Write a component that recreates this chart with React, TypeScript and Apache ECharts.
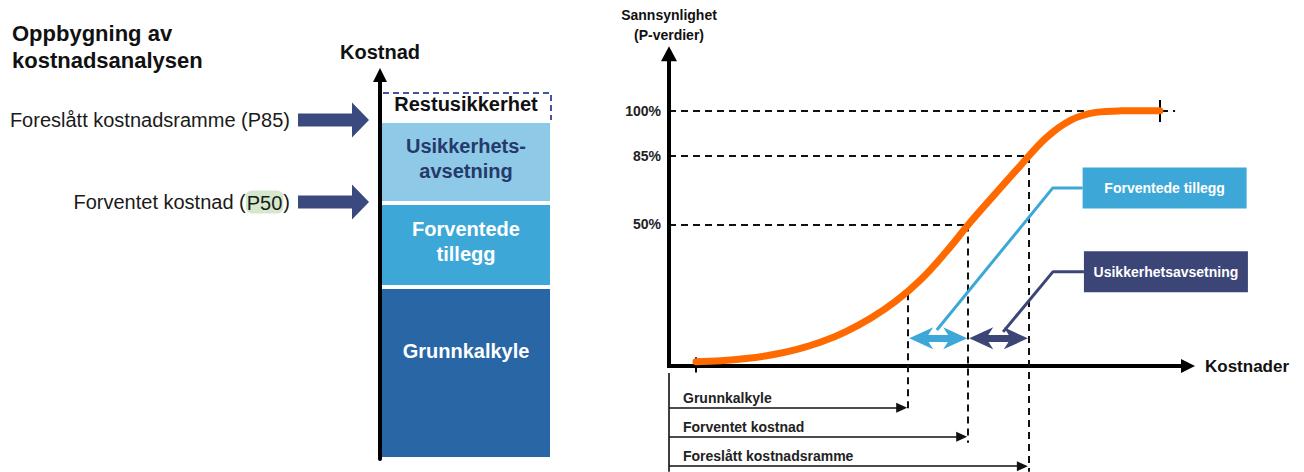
import React, { useEffect, useRef } from 'react';
import * as echarts from 'echarts';

const FONT = '"Liberation Sans", Arial, Helvetica, sans-serif';

// ---------- Left: build-up of the cost estimate (stacked column) ----------
const buildUpNames = ['Grunnkalkyle', 'Forventede tillegg', 'Usikkerhetsavsetning', 'Restusikkerhet'];
const buildUpLabels = ['Grunnkalkyle', 'Forventede\ntillegg', 'Usikkerhets-\navsetning', 'Restusikkerhet'];
const buildUpValues = [172, 84, 82, 29];
const buildUpColors = ['#2866a6', '#3da8d8', '#8ec9e8', '#ffffff'];
const buildUpLabelColors = ['#ffffff', '#ffffff', '#26396b', '#111111'];
const buildUpMax = 383;

const levelTexts = ['Foreslått kostnadsramme (P85)', 'Forventet kostnad ({hl|P50})'];
const levelStackCount = [3, 2];

// ---------- Right: S-curve (cumulative probability vs cost) ----------
const curveCost = [5.21, 10.03, 14.86, 19.68, 24.51, 29.33, 34.16, 38.99, 43.81, 48.63, 53.46, 58.28, 63.1, 67.93, 72.75, 77.58, 82.4, 87.23, 92.05, 94.75];
const curveProb = [1.68, 2.08, 2.94, 4.31, 6.46, 9.4, 13.51, 18.8, 25.46, 33.89, 44.66, 56.61, 67.77, 78.74, 89.32, 96.37, 99.38, 99.97, 100, 100];

const pLabels = ['50%', '85%', '100%'];
const pValues = [55.5, 82.27, 100];
const pLineEnds = [57.76, 69.47, 97.7];

const costLabels = ['Grunnkalkyle', 'Forventet kostnad', 'Foreslått kostnadsramme'];
const costValues = [46.18, 57.76, 69.47];
const costCurveProb = [28.5, 55.5, 82.27];

const calloutTexts = ['Forventede tillegg', 'Usikkerhetsavsetning'];
const calloutColors = ['#3da8d8', '#3b4677'];

// layout (annotation positions in the right chart's data space)
const bracketY = [-16.3, -27.7, -39.2];
const verticalBottom = [-17.9, -30.0, -41.4];
const doubleArrowY = 10.85;
const leaderLight = [[51.7, 14.1], [74.1, 69.8], [79.85, 69.8]];
const leaderDark = [[64.5, 13.4], [74.1, 36.9], [80.1, 36.9]];

const LEFT_GRID = { left: 380, width: 172, top: 76, bottom: 13 };

type Pt = number[];
function arrowHead(tip: Pt, dir: Pt, len: number, hw: number, notch: number, fill: string) {
  const [tx, ty] = tip;
  const [dx, dy] = dir;
  const px = -dy;
  const py = dx;
  const bx = tx - dx * len;
  const by = ty - dy * len;
  const pts: Pt[] = [[tx, ty], [bx + px * hw, by + py * hw]];
  if (notch) pts.push([tx - dx * (len - notch), ty - dy * (len - notch)]);
  pts.push([bx - px * hw, by - py * hw]);
  return { type: 'polygon', z: 20, shape: { points: pts }, style: { fill } };
}

export default function App() {
  const ref = useRef<HTMLDivElement>(null);

  useEffect(() => {
    if (!ref.current) return;
    const chart = echarts.init(ref.current, null, { renderer: 'svg' });

    const barSeries = buildUpValues.map((v, i) => ({
      type: 'bar',
      name: buildUpNames[i],
      xAxisIndex: 0,
      yAxisIndex: 0,
      stack: 'kost',
      data: [v],
      barWidth: '100%',
      silent: true,
      itemStyle: { color: buildUpColors[i], borderColor: '#ffffff', borderWidth: i < 3 ? 2 : 0 },
      label: {
        show: true,
        position: i === 0 ? ['50%', '37%'] : i === 3 ? ['50%', '42%'] : ['50%', '46%'],
        align: 'center',
        verticalAlign: 'middle',
        formatter: buildUpLabels[i],
        color: buildUpLabelColors[i],
        fontFamily: FONT,
        fontSize: 20,
        fontWeight: 'bold',
        lineHeight: 25,
      },
    }));

    const dashStyle = { color: '#111111', width: 2, type: [7, 5] };

    const option: any = {
      animation: false,
      grid: [
        { left: LEFT_GRID.left, width: LEFT_GRID.width, top: LEFT_GRID.top, bottom: LEFT_GRID.bottom },
        { left: 669, right: 117, top: 48, bottom: 0 },
      ],
      xAxis: [
        { gridIndex: 0, type: 'category', data: ['Kostnad'], show: false },
        {
          gridIndex: 1,
          type: 'value',
          min: 0,
          max: 100,
          axisLine: { show: true, onZero: true, lineStyle: { color: '#000000', width: 4 } },
          axisTick: { show: false },
          axisLabel: { show: false },
          splitLine: { show: false },
          name: 'Kostnader',
          nameLocation: 'end',
          nameGap: 18,
          nameTextStyle: { fontFamily: FONT, fontSize: 17, fontWeight: 'bold', color: '#111111' },
        },
      ],
      yAxis: [
        {
          gridIndex: 0,
          type: 'value',
          min: 0,
          max: buildUpMax,
          z: 5,
          axisLine: { show: true, lineStyle: { color: '#000000', width: 4 } },
          axisTick: { show: false },
          axisLabel: { show: false },
          splitLine: { show: false },
          name: 'Kostnad',
          nameLocation: 'end',
          nameGap: 14,
          nameTextStyle: { fontFamily: FONT, fontSize: 20, fontWeight: 'bold', color: '#111111' },
        },
        {
          gridIndex: 1,
          type: 'value',
          min: -41.5,
          max: 124.6,
          axisLine: { show: false },
          axisTick: { show: false },
          axisLabel: { show: false },
          splitLine: { show: false },
          name: 'Sannsynlighet\n(P-verdier)',
          nameLocation: 'end',
          nameGap: 3,
          nameTextStyle: { fontFamily: FONT, fontSize: 14, fontWeight: 'bold', color: '#111111', lineHeight: 20, align: 'center' },
        },
      ],
      series: [
        ...barSeries,
        {
          type: 'line',
          name: 'S-kurve',
          xAxisIndex: 1,
          yAxisIndex: 1,
          data: curveCost.map((c, i) => [c, curveProb[i]]),
          smooth: 0.4,
          showSymbol: false,
          symbol: 'none',
          clip: false,
          z: 10,
          silent: true,
          lineStyle: { color: '#ff6a00', width: 7, cap: 'round' },
          markLine: {
            silent: true,
            z: 4,
            symbol: ['none', 'none'],
            lineStyle: dashStyle,
            label: { show: false },
            data: [
              ...pValues.map((p, i) => [
                {
                  coord: [0, p],
                  label: {
                    show: true,
                    position: 'start',
                    distance: 8,
                    formatter: pLabels[i],
                    fontFamily: FONT,
                    fontSize: 14,
                    fontWeight: 'bold',
                    color: '#222222',
                  },
                },
                { coord: [pLineEnds[i], p] },
              ]),
              ...costValues.map((c, i) => [
                { coord: [c, costCurveProb[i]] },
                { coord: [c, verticalBottom[i]] },
              ]),
            ],
          },
        },
        {
          type: 'line',
          name: 'akser',
          xAxisIndex: 1,
          yAxisIndex: 1,
          data: [],
          silent: true,
          markLine: {
            silent: true,
            z: 6,
            symbol: ['none', 'none'],
            label: { show: false },
            lineStyle: { color: '#000000', width: 4, type: 'solid' },
            data: [
              [{ coord: [0, -0.8] }, { coord: [0, 121.4] }],
              [{ coord: [curveCost[0], -2.5], lineStyle: { width: 2 } }, { coord: [curveCost[0], 3.5] }],
              [
                { coord: [curveCost[curveCost.length - 1], 95.6], lineStyle: { width: 2 } },
                { coord: [curveCost[curveCost.length - 1], 104.2] },
              ],
              [{ coord: [0, -2.7], lineStyle: { width: 1.5 } }, { coord: [0, -41.4] }],
            ],
          },
        },
        {
          type: 'line',
          name: 'kostnader',
          xAxisIndex: 1,
          yAxisIndex: 1,
          data: [],
          silent: true,
          markLine: {
            silent: true,
            z: 6,
            symbol: ['none', 'none'],
            lineStyle: { color: '#111111', width: 1.5, type: 'solid' },
            label: {
              show: true,
              position: 'insideStartTop',
              distance: [14, 3],
              formatter: '{b}',
              fontFamily: FONT,
              fontSize: 14,
              fontWeight: 'bold',
              color: '#222222',
            },
            data: costLabels.map((n, i) => [
              { name: n, coord: [0, bracketY[i]] },
              { coord: [costValues[i] - 1.2, bracketY[i]] },
            ]),
          },
        },
        {
          type: 'line',
          name: 'Forventede tillegg pil',
          xAxisIndex: 1,
          yAxisIndex: 1,
          data: [],
          silent: true,
          markLine: {
            silent: true,
            z: 7,
            symbol: ['none', 'none'],
            label: { show: false },
            lineStyle: { color: calloutColors[0], width: 7, type: 'solid' },
            data: [[{ coord: [costValues[0] + 2.5, doubleArrowY] }, { coord: [costValues[1] - 2.5, doubleArrowY] }]],
          },
        },
        {
          type: 'line',
          name: 'Usikkerhetsavsetning pil',
          xAxisIndex: 1,
          yAxisIndex: 1,
          data: [],
          silent: true,
          markLine: {
            silent: true,
            z: 7,
            symbol: ['none', 'none'],
            label: { show: false },
            lineStyle: { color: calloutColors[1], width: 7, type: 'solid' },
            data: [[{ coord: [costValues[1] + 2.5, doubleArrowY] }, { coord: [costValues[2] - 2.5, doubleArrowY] }]],
          },
        },
        {
          type: 'line',
          name: 'leder1',
          xAxisIndex: 1,
          yAxisIndex: 1,
          data: leaderLight,
          showSymbol: false,
          symbol: 'none',
          clip: false,
          z: 6,
          silent: true,
          lineStyle: { color: calloutColors[0], width: 3 },
        },
        {
          type: 'line',
          name: 'leder2',
          xAxisIndex: 1,
          yAxisIndex: 1,
          data: leaderDark,
          showSymbol: false,
          symbol: 'none',
          clip: false,
          z: 6,
          silent: true,
          lineStyle: { color: calloutColors[1], width: 3 },
        },
      ],
    };

    chart.setOption(option);

    const cum = (n: number) => buildUpValues.slice(0, n).reduce((a, b) => a + b, 0);
    const yLeft = (v: number) => chart.convertToPixel({ yAxisIndex: 0 }, v) as number;
    const pR = (p: number[]) => chart.convertToPixel({ gridIndex: 1 }, p) as number[];

    const graphics: any[] = [
      {
        type: 'text',
        x: 12,
        y: 20,
        style: {
          text: 'Oppbygning av\nkostnadsanalysen',
          fontFamily: FONT,
          fontSize: 22,
          fontWeight: 'bold',
          lineHeight: 27,
          fill: '#111111',
          align: 'left',
          verticalAlign: 'top',
        },
      },
    ];

    levelStackCount.forEach((n, i) => {
      const y = yLeft(cum(n)) - 1;
      graphics.push({
        type: 'text',
        x: 290,
        y,
        style: {
          text: levelTexts[i],
          fontFamily: FONT,
          fontSize: 20,
          fill: '#1a1a1a',
          align: 'right',
          verticalAlign: 'middle',
          rich: {
            hl: {
              fontFamily: FONT,
              fontSize: 20,
              fill: '#1a1a1a',
              backgroundColor: '#d5e8cd',
              borderRadius: 6,
              padding: [2, 1, 1, 1],
            },
          },
        },
      });
      graphics.push({
        type: 'polygon',
        shape: {
          points: [
            [298, y - 6.5],
            [352, y - 6.5],
            [352, y - 17.5],
            [369, y],
            [352, y + 17.5],
            [352, y + 6.5],
            [298, y + 6.5],
          ],
        },
        style: { fill: '#3b4a7e' },
      });
    });

    // axis arrowheads
    const leftTop = yLeft(buildUpMax);
    graphics.push(arrowHead([LEFT_GRID.left, leftTop - 8], [0, -1], 14, 7, 0, '#000000'));
    const xEnd = pR([100, 0]);
    graphics.push(arrowHead([xEnd[0] + 8, xEnd[1]], [1, 0], 14, 7, 0, '#000000'));
    const yEnd = pR([0, 121.4]);
    graphics.push(arrowHead([yEnd[0], yEnd[1] - 10], [0, -1], 15, 8, 0, '#000000'));

    // bracket arrowheads
    costValues.forEach((c, i) => {
      const t = pR([c, bracketY[i]]);
      graphics.push(arrowHead([t[0] - 1, t[1]], [1, 0], 11, 5, 0, '#111111'));
    });

    // double arrow heads
    [[costValues[0], costValues[1]], [costValues[1], costValues[2]]].forEach((pair, i) => {
      const a = pR([pair[0], doubleArrowY]);
      const b = pR([pair[1], doubleArrowY]);
      graphics.push(arrowHead([a[0] + 1, a[1]], [-1, 0], 24, 11, 7, calloutColors[i]));
      graphics.push(arrowHead([b[0] - 1, b[1]], [1, 0], 24, 11, 7, calloutColors[i]));
    });

    // dashed outline of the residual-uncertainty box
    const restTop = yLeft(cum(4));
    const restBottom = yLeft(cum(3));
    const rightEdge = LEFT_GRID.left + LEFT_GRID.width - 1;
    graphics.push({
      type: 'polyline',
      z: 20,
      shape: {
        points: [
          [LEFT_GRID.left + 3, restTop + 1],
          [rightEdge, restTop + 1],
          [rightEdge, restBottom - 1],
        ],
      },
      style: { stroke: '#45559a', lineWidth: 2, lineDash: [6, 4], fill: null },
    });

    // callout boxes at the leader ends
    [leaderLight, leaderDark].forEach((pts, i) => {
      const end = pR(pts[pts.length - 1]);
      const w = 164;
      const h = 41;
      graphics.push({
        type: 'rect',
        shape: { x: end[0], y: end[1] - h / 2, width: w, height: h },
        style: { fill: calloutColors[i] },
      });
      graphics.push({
        type: 'text',
        x: end[0] + w / 2,
        y: end[1],
        style: {
          text: calloutTexts[i],
          fontFamily: FONT,
          fontSize: 14,
          fontWeight: 'bold',
          fill: '#ffffff',
          align: 'center',
          verticalAlign: 'middle',
        },
      });
    });

    chart.setOption({ graphic: graphics });

    return () => chart.dispose();
  }, []);

  return (
    <div
      ref={ref}
      style={{ position: 'fixed', left: 0, top: 0, width: 1304, height: 472, background: '#ffffff' }}
    />
  );
}
